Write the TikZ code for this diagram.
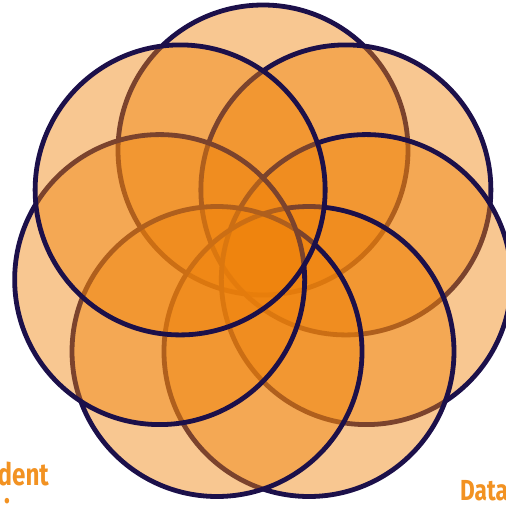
\documentclass[tikz,border=0pt]{standalone}
\usepackage{fontspec}
\newfontfamily\labfont[FakeStretch=0.78]{Fira Sans}
\definecolor{petal}{RGB}{239,130,10}
\definecolor{rim}{RGB}{28,16,74}
\definecolor{labcol}{RGB}{242,146,34}
\tikzset{
  petalcirc/.style={fill=petal, fill opacity=0.45, draw=rim, draw opacity=1, line width=4.8pt},
  labtext/.style={text=labcol, inner sep=0pt}
}
\begin{document}
\begin{tikzpicture}[x=1pt,y=-1pt]
\useasboundingbox (0,0) rectangle (506,504);
\clip (0,0) rectangle (506,504);
\foreach \k in {0,...,6}{
  \pgfmathsetmacro\ang{90-\k*360/7}
  \path[petalcirc] ({263+106*cos(\ang)},{256-106*sin(\ang)}) circle (145);
}
\node[labtext, anchor=base east, font=\labfont\bfseries\fontsize{31}{38}\selectfont] (lblA) at (49,485) {Student};
\node[labtext, anchor=base, font=\labfont\bfseries\fontsize{31}{38}\selectfont] (lblA2) at (6,523) {voice};
\node[labtext, anchor=base west, font=\labfont\bfseries\fontsize{29}{34}\selectfont] (lblB) at (460,500) {Data};
\end{tikzpicture}
\end{document}
